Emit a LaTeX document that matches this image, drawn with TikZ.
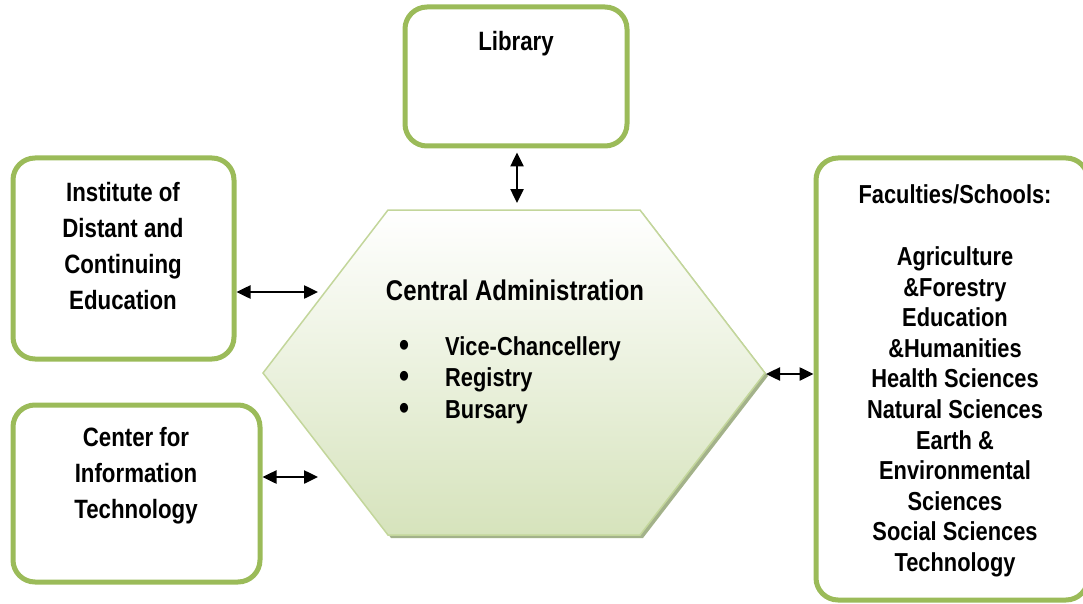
\documentclass[tikz,border=0pt]{standalone}
\usepackage{fontspec}
\setmainfont{Liberation Sans}[FakeStretch=0.84]
\usepackage{tikz}
\usetikzlibrary{positioning,calc,arrows.meta}

\definecolor{boxgreen}{HTML}{9BBB59}
\definecolor{hexedge}{HTML}{C3D69B}
\definecolor{hexbot}{HTML}{D6E3BC}
\definecolor{hexshadow}{HTML}{A3B28A}

\newcommand{\bigbul}{\makebox[46pt][l]{\smash{\raisebox{-1pt}{\fontsize{34}{34}\selectfont\textbullet}}}}

\begin{document}
\begin{tikzpicture}[
    x=1pt, y=-1pt,
    unitbox/.style={draw=boxgreen, line width=5pt, rounded corners=22pt, fill=white, inner sep=0pt},
    boxtext/.style={align=center, font=\bfseries\fontsize{26.5}{36}\selectfont},
    biarrow/.style={{Triangle[length=14pt,width=13pt]}-{Triangle[length=14pt,width=13pt]}, line width=2.5pt}
]
    \useasboundingbox (0,0) rectangle (1083,604);

    % Hexagone central
    \fill[hexshadow] (391,213) -- (643,213) -- (768,376) -- (643,538) -- (391,538) -- (266,376) -- cycle;
    \shade[top color=white, bottom color=hexbot, draw=hexedge, line width=1.5pt]
        (388,210) -- (640,210) -- (765,373) -- (640,535) -- (388,535) -- (263,373) -- cycle;

    \node[font=\bfseries\fontsize{28.5}{32}\selectfont] (admin) at (515,290) {Central Administration};
    \node[anchor=west, inner sep=0pt, align=left, font=\bfseries\fontsize{26}{31.5}\selectfont] (adminlist) at (399,380)
        {\bigbul Vice-Chancellery\\
         \bigbul Registry\\
         \bigbul Bursary};

    % Boites autour
    \node[unitbox, minimum width=222pt, minimum height=139pt] (lib) at (516,76.5) {};
    \node[boxtext] (libtxt) at (516,44) {Library};

    \node[unitbox, minimum width=221pt, minimum height=201pt] (inst) at (123.5,258.5) {};
    \node[boxtext] (insttxt) at (123,246.5) {Institute of\\Distant and\\Continuing\\Education};

    \node[unitbox, minimum width=247pt, minimum height=177pt] (cit) at (136.5,493.5) {};
    \node[boxtext] (cittxt) at (136,476) {Center for\\Information\\Technology};

    \node[unitbox, minimum width=272pt, minimum height=442pt] (fac) at (952,379) {};
    \node[align=center, font=\bfseries\fontsize{26}{30.6}\selectfont] (factxt) at (955,381)
        {Faculties/Schools:\\[31pt]
         Agriculture\\\&Forestry\\Education\\\&Humanities\\Health Sciences\\Natural Sciences\\
         Earth \&\\Environmental\\Sciences\\Social Sciences\\Technology};

    % Liens
    \coordinate (hexN) at (517,203);
    \coordinate (hexW1) at (318,292);
    \coordinate (hexW2) at (318,477);
    \coordinate (hexE) at (766,374);

    \draw[biarrow] ([shift={(1,4)}]lib.south) -- (hexN);
    \draw[biarrow] (inst.east |- hexW1) -- (hexW1);
    \draw[biarrow] (cit.east |- hexW2) -- (hexW2);
    \draw[biarrow] (hexE) -- (fac.west |- hexE);

\end{tikzpicture}
\end{document}
